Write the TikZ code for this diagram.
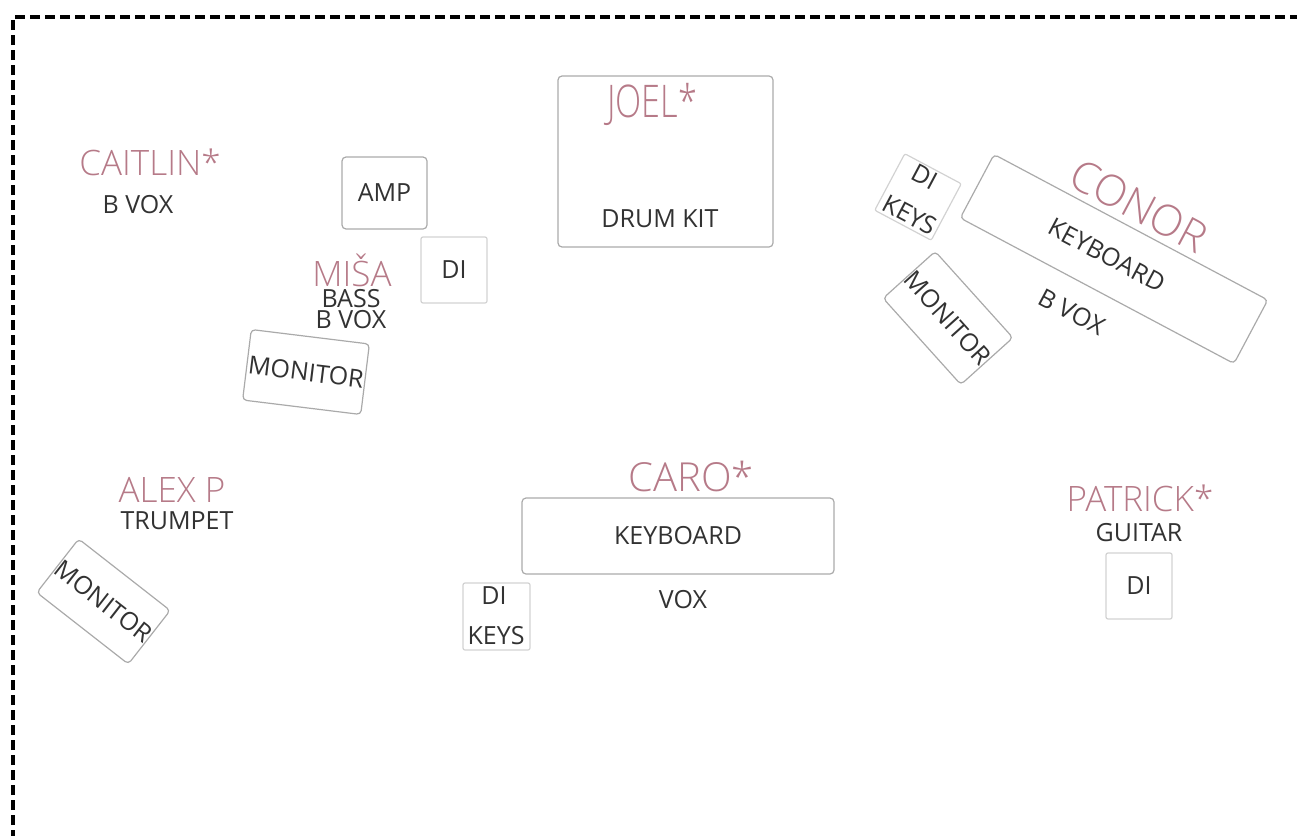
\documentclass[tikz,border=0pt]{standalone}
\usepackage{graphicx}
\usepackage{fontspec}
\setmainfont{Open Sans}
\newfontfamily\namefont{Open Sans Light}
\definecolor{namecol}{RGB}{182,122,136}
\definecolor{txtcol}{RGB}{50,50,50}
\definecolor{boxcol}{RGB}{170,170,170}
\definecolor{dicol}{RGB}{210,210,210}
\begin{document}
\begin{tikzpicture}[x=1pt,y=-1pt,
  pname/.style={text=namecol,font=\namefont\fontsize{35}{38}\selectfont,inner sep=0pt},
  bigname/.style={pname,font=\namefont\fontsize{43}{46}\selectfont},
  lbl/.style={text=txtcol,font=\fontsize{25}{26}\selectfont,inner sep=0pt},
  gear/.style={draw=boxcol,line width=1.2pt,rounded corners=4pt,inner sep=0pt,text=txtcol,font=\fontsize{25}{26}\selectfont},
  dibox/.style={draw=dicol,line width=1.2pt,rounded corners=2pt,inner sep=0pt,text=txtcol,font=\fontsize{25}{26}\selectfont,minimum width=66pt,minimum height=66pt}]
\useasboundingbox (0,0) rectangle (1297,835);
\begin{scope}
\clip (0,0) rectangle (1297,835);
\draw[black,line width=3.2pt,dash pattern=on 10pt off 5pt] (13,840) -- (13,17) -- (1310,17);
\end{scope}
% Caitlin
\node[pname] (caitlin) at (150,162) {CAITLIN*};
\node[lbl] (caitlinr) at (138,205) {B VOX};
% Misa
\node[gear,minimum width=85pt,minimum height=72pt] (amp) at (384.5,193) {AMP};
\node[dibox] (misadi) at (454,270) {DI};
\node[pname] (misa) at (352,270) {MIŠA};
\node[lbl] (misab) at (351,299) {BASS};
\node[lbl] (misav) at (351,320) {B VOX};
\node[gear,minimum width=119pt,minimum height=71pt,rotate=-7] (misamon) at (306,372) {MONITOR};
% Joel
\node[gear,minimum width=215pt,minimum height=171pt] (drums) at (665.5,161.5) {};
\node[pname,font=\namefont\fontsize{45}{48}\selectfont] (joel) at (652,104) {\scalebox{0.76}[1]{JOEL*}};
\node[lbl] (drumkit) at (660,219) {DRUM KIT};
% Conor
\node[gear,minimum width=310pt,minimum height=72pt,rotate=-28] (conorkb) at (1114,259) {};
\node[lbl,rotate=-28] (conorkbl) at (1107,255) {KEYBOARD};
\node[bigname,rotate=-28] (conor) at (1139,206) {CONOR};
\node[lbl,rotate=-28] (conorv) at (1072,312) {B VOX};
\node[dibox,minimum width=64pt,minimum height=64pt,rotate=-28] (conordi) at (918,197) {};
\node[lbl,rotate=-28] (conordil) at (925,177) {DI};
\node[lbl,rotate=-28] (conordik) at (910,215) {KEYS};
\node[gear,minimum width=113pt,minimum height=70pt,rotate=-48] (conormon) at (948,318) {MONITOR};
% Caro
\node[pname,font=\namefont\fontsize{40}{43}\selectfont] (caro) at (691,476) {CARO*};
\node[gear,minimum width=312pt,minimum height=76pt] (carokb) at (678,536) {KEYBOARD};
\node[lbl] (carov) at (683,600) {VOX};
\node[dibox,minimum width=67pt,minimum height=67pt] (carodi) at (496.5,616.5) {};
\node[lbl] (carodil) at (494,596) {DI};
\node[lbl] (carodik) at (496,636) {KEYS};
% Alex
\node[pname] (alex) at (172,490) {ALEX P};
\node[lbl] (alext) at (177,521) {TRUMPET};
\node[gear,minimum width=111pt,minimum height=68pt,rotate=-38] (alexmon) at (103.5,601.5) {MONITOR};
% Patrick
\node[pname] (patrick) at (1140,498) {PATRICK*};
\node[lbl] (patrickg) at (1139,533) {GUITAR};
\node[dibox] (patrickdi) at (1139,586) {DI};
\end{tikzpicture}
\end{document}
